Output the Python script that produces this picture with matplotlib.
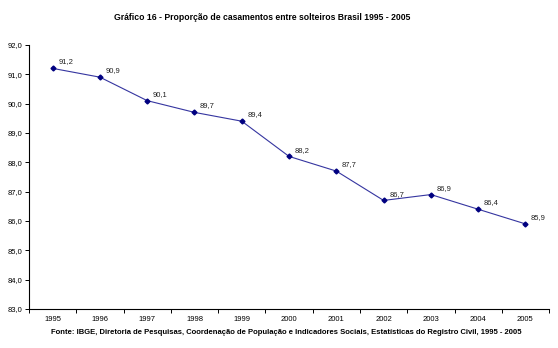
import matplotlib
matplotlib.use("Agg")
import matplotlib.pyplot as plt
from matplotlib.ticker import FixedLocator, NullFormatter

anos = ['1995', '1996', '1997', '1998', '1999', '2000', '2001', '2002', '2003', '2004', '2005']
proporcao = [91.2, 90.9, 90.1, 89.7, 89.4, 88.2, 87.7, 86.7, 86.9, 86.4, 85.9]
y_ticks = [83.0, 84.0, 85.0, 86.0, 87.0, 88.0, 89.0, 90.0, 91.0, 92.0]

plt.rcParams['font.family'] = ['Liberation Sans', 'DejaVu Sans']

fig = plt.figure(figsize=(5.58, 3.48), dpi=100)
ax = fig.add_axes([0.052, 0.112, 0.932, 0.759])

x = list(range(len(anos)))
ax.plot(x, proporcao, color='#3535a0', lw=0.8, marker='D', ms=2.5,
        mfc='#000080', mec='#000080', zorder=3)
for xi, v in zip(x, proporcao):
    ax.annotate(f'{v:.1f}'.replace('.', ','), (xi, v), xytext=(4, 3.5),
                textcoords='offset points', fontsize=5.5, color='#222222')

ax.set_xlim(-0.5, len(anos) - 0.5)
ax.set_ylim(83, 92)
ax.set_yticks(y_ticks)
ax.set_yticklabels([f'{t:.1f}'.replace('.', ',') for t in y_ticks], fontsize=5.5)

ax.set_xticks(x)
ax.set_xticklabels(anos, fontsize=5.5)
ax.tick_params(axis='x', which='major', length=0, pad=5)
ax.xaxis.set_minor_locator(FixedLocator([i - 0.5 for i in range(len(anos) + 1)]))
ax.xaxis.set_minor_formatter(NullFormatter())
ax.tick_params(axis='x', which='minor', length=3, width=0.7)
ax.tick_params(axis='y', length=3, width=0.7, pad=2)

for s in ['top', 'right']:
    ax.spines[s].set_visible(False)
for s in ['left', 'bottom']:
    ax.spines[s].set_linewidth(0.8)

fig.text(0.47, 0.950, 'Gráfico 16 - Proporção de casamentos entre solteiros Brasil 1995 - 2005',
         ha='center', va='center', fontsize=6.2, fontweight='bold')
fig.text(0.513, 0.045, 'Fonte: IBGE, Diretoria de Pesquisas, Coordenação de População e Indicadores Sociais, '
         'Estatísticas do Registro Civil, 1995 - 2005',
         ha='center', va='center', fontsize=5.5, fontweight='bold')

fig.savefig('out.png', dpi=100)
